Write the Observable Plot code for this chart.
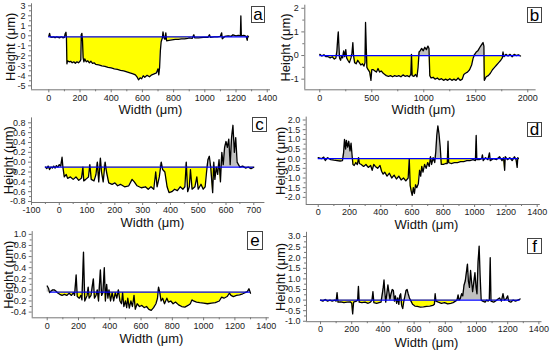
<!DOCTYPE html>
<html><head><meta charset="utf-8">
<script src="https://cdn.jsdelivr.net/npm/d3@7"></script>
<script src="https://cdn.jsdelivr.net/npm/@observablehq/plot@0.6"></script>
<style>
body{margin:0;background:#fff;}
#wrap{position:relative;width:550px;height:352px;overflow:hidden;font-family:Arial,"Liberation Sans",sans-serif;background:#fff;}
.panel{position:absolute;}
.tag{position:absolute;background:#fff;border:1px solid #444;box-sizing:border-box;font-size:17px;display:flex;align-items:center;justify-content:center;color:#000;line-height:1;}
</style>
</head><body><div id="wrap"></div>
<script>
// ---- data ----
const baseA = -0.1, baseB = 0, baseC = -0.1, baseD = 0, baseE = -0.04, baseF = 0;
const profileA = [[0,-0.05],[5,0.25],[10,-0.1],[20,-0.15],[30,-0.1],[40,-0.2],[50,-0.1],[60,-0.15],[70,-0.2],[80,-0.1],[90,-0.2],[100,-0.15],[105,0.2],[110,0.35],[113,-0.2],[116,-2.8],[120,-2.5],[130,-2.6],[140,-2.55],[150,-2.7],[160,-2.6],[170,-2.75],[180,-2.6],[190,-2.7],[200,-2.55],[205,-2.4],[208,0.1],[212,0.25],[216,-0.5],[220,-2.2],[225,-2.6],[230,-2.3],[240,-2.6],[250,-2.5],[260,-2.7],[270,-2.55],[280,-2.75],[290,-2.7],[300,-2.85],[320,-2.9],[340,-3.0],[360,-3.05],[380,-3.15],[400,-3.2],[420,-3.3],[440,-3.35],[460,-3.45],[480,-3.5],[500,-3.6],[520,-3.7],[540,-3.8],[555,-3.9],[565,-4.1],[575,-4.4],[585,-4.2],[595,-4.3],[605,-4.0],[615,-4.15],[630,-3.95],[645,-4.1],[660,-3.9],[675,-3.8],[690,-3.7],[700,-3.3],[705,-3.9],[710,-3.2],[715,-1.5],[720,-0.6],[728,-0.2],[732,0.4],[738,-0.2],[745,-0.35],[750,0.3],[755,-0.5],[770,-0.45],[790,-0.4],[810,-0.35],[830,-0.35],[850,-0.3],[870,-0.3],[890,-0.25],[900,-0.2],[920,-0.25],[930,0.1],[935,-0.2],[960,-0.2],[990,-0.15],[1020,-0.15],[1030,0.1],[1035,-0.15],[1060,-0.1],[1080,-0.1],[1100,-0.05],[1108,0.3],[1112,-0.3],[1130,-0.05],[1150,0.0],[1170,-0.05],[1180,0.1],[1200,0.0],[1215,0.05],[1228,0.0],[1231,2.0],[1234,0.0],[1250,0.05],[1265,-0.05],[1272,-0.45],[1275,0.0],[1280,-0.1]];
const profileB = [[0,0.05],[20,-0.02],[40,0.03],[60,-0.05],[80,-0.05],[100,-0.1],[120,-0.05],[140,-0.15],[155,-0.1],[165,0.2],[172,0.7],[178,1.0],[183,0.5],[190,-0.1],[200,-0.2],[210,0.0],[220,-0.1],[230,0.2],[240,-0.05],[250,0.25],[258,-0.1],[270,-0.2],[285,-0.3],[300,-0.1],[310,0.1],[318,0.55],[325,0.0],[335,-0.3],[350,-0.35],[365,-0.2],[380,-0.3],[395,-0.4],[410,-0.35],[425,-0.45],[435,-0.3],[440,1.4],[448,0.2],[453,-0.5],[465,-0.6],[480,-0.7],[492,-1.05],[500,-0.6],[515,-0.6],[530,-0.65],[545,-0.7],[560,-0.55],[575,-0.7],[590,-0.65],[610,-0.75],[625,-0.8],[640,-0.85],[660,-0.88],[680,-0.85],[700,-0.9],[720,-0.85],[740,-0.88],[760,-0.85],[780,-0.9],[800,-0.82],[820,-0.88],[840,-0.85],[860,-0.9],[875,-0.8],[882,0.05],[888,-0.85],[905,-0.88],[920,-0.8],[935,-0.9],[945,-0.5],[955,0.15],[965,0.2],[980,0.3],[995,0.2],[1010,0.35],[1025,0.25],[1040,0.4],[1050,0.3],[1058,-0.85],[1070,-0.95],[1090,-0.92],[1110,-1.0],[1130,-0.95],[1150,-1.02],[1170,-0.98],[1190,-1.05],[1210,-1.0],[1230,-1.05],[1250,-0.98],[1270,-1.05],[1290,-1.0],[1310,-1.05],[1330,-0.95],[1350,-1.05],[1370,-1.0],[1385,-0.8],[1400,-0.75],[1420,-0.7],[1440,-0.6],[1460,-0.4],[1475,-0.1],[1490,0.05],[1505,0.15],[1520,0.2],[1540,0.35],[1555,0.45],[1570,0.55],[1578,0.4],[1582,-1.05],[1600,-0.9],[1620,-0.85],[1640,-0.75],[1660,-0.6],[1680,-0.5],[1700,-0.4],[1720,-0.3],[1740,-0.2],[1755,-0.1],[1762,0.15],[1770,-0.05],[1790,0.05],[1810,-0.02],[1830,0.05],[1850,-0.05],[1870,0.05],[1890,0.0],[1910,0.03],[1930,-0.02]];
const profileC = [[-50,-0.1],[-45,-0.13],[-40,-0.08],[-35,-0.15],[-30,-0.1],[-25,-0.12],[-20,-0.08],[-15,-0.12],[-10,-0.07],[-5,-0.1],[0,-0.05],[5,-0.08],[10,0.1],[13,-0.1],[18,-0.3],[25,-0.25],[30,-0.33],[40,-0.3],[50,-0.35],[60,-0.3],[70,-0.37],[80,-0.32],[85,-0.1],[88,-0.38],[95,-0.35],[105,-0.3],[110,-0.05],[115,-0.35],[125,-0.38],[132,-0.25],[137,0.0],[142,-0.4],[148,0.08],[152,-0.2],[158,-0.4],[165,0.0],[170,-0.2],[178,-0.42],[190,-0.45],[200,-0.42],[210,-0.48],[220,-0.45],[235,-0.5],[250,-0.48],[262,-0.35],[270,-0.4],[280,-0.48],[295,-0.52],[310,-0.5],[320,-0.55],[330,-0.5],[340,-0.55],[347,-0.2],[352,-0.5],[360,-0.3],[367,0.0],[372,-0.15],[380,-0.2],[388,-0.5],[395,-0.62],[405,-0.6],[415,-0.55],[425,-0.58],[435,-0.5],[445,-0.55],[452,-0.5],[457,0.0],[462,-0.6],[468,-0.5],[472,-0.15],[478,-0.55],[488,-0.5],[495,-0.3],[500,-0.55],[510,-0.45],[518,-0.55],[525,-0.5],[530,-0.2],[535,0.05],[540,0.12],[545,-0.1],[552,-0.62],[556,0.0],[560,-0.35],[565,-0.1],[570,-0.25],[575,0.05],[580,-0.4],[585,0.2],[590,-0.05],[595,0.3],[600,0.42],[605,0.3],[610,0.47],[615,-0.05],[620,0.5],[625,0.75],[630,0.2],[635,0.5],[640,0.0],[645,-0.05],[650,-0.1],[660,-0.08],[670,-0.12],[680,-0.1],[690,-0.13],[700,-0.1]];
const profileD = [[0,0.05],[20,0.0],[35,0.08],[45,-0.1],[60,0.05],[80,-0.05],[100,-0.08],[120,-0.1],[140,-0.12],[155,-0.1],[162,0.3],[168,1.0],[175,0.5],[180,0.95],[188,0.6],[195,0.9],[203,0.4],[210,0.8],[216,0.2],[222,-0.3],[230,-0.35],[240,-0.2],[250,-0.3],[258,0.05],[263,-0.25],[275,-0.3],[290,-0.4],[305,-0.3],[320,-0.45],[335,-0.35],[345,-0.6],[355,-0.3],[365,-0.4],[380,-0.5],[395,-0.35],[405,-0.65],[415,-0.8],[425,-0.7],[440,-0.9],[455,-0.75],[470,-1.0],[485,-0.85],[500,-1.05],[515,-0.9],[530,-1.1],[545,-1.0],[560,-1.15],[575,-1.0],[582,0.0],[588,-1.4],[595,-1.7],[601,-1.9],[608,-1.5],[615,-1.8],[622,-1.35],[630,-1.5],[640,-1.3],[648,-0.6],[655,-0.9],[662,-0.4],[670,-0.7],[680,-0.3],[690,-0.5],[700,-0.2],[710,-0.4],[718,0.1],[725,-0.3],[735,0.05],[745,-0.2],[752,0.4],[758,1.2],[765,1.7],[772,1.3],[780,0.6],[787,-0.3],[800,-0.3],[815,-0.25],[825,-0.25],[830,0.9],[834,-0.2],[850,-0.25],[870,-0.2],[890,-0.2],[910,-0.15],[930,-0.15],[950,-0.1],[970,-0.1],[990,-0.05],[1005,-0.1],[1010,1.2],[1014,-0.05],[1030,-0.05],[1045,0.0],[1050,0.2],[1055,-0.1],[1070,0.05],[1085,-0.05],[1095,0.3],[1100,-0.1],[1120,0.0],[1140,-0.05],[1160,0.1],[1175,-0.1],[1185,0.05],[1192,-0.6],[1196,0.1],[1210,-0.05],[1225,0.05],[1240,-0.1],[1255,0.1],[1265,-0.05],[1272,-0.45],[1276,0.05],[1280,0.0]];
const profileE = [[0,0.07],[8,0.03],[15,-0.05],[25,-0.02],[35,0.0],[45,0.0],[55,-0.02],[65,-0.05],[80,-0.08],[95,-0.1],[110,-0.08],[125,-0.1],[140,-0.06],[155,-0.1],[168,-0.05],[175,-0.1],[185,0.27],[192,-0.12],[205,-0.15],[215,-0.1],[222,-0.18],[232,0.68],[240,-0.2],[255,-0.1],[262,0.05],[268,-0.15],[280,-0.1],[295,0.2],[302,-0.15],[312,-0.1],[320,0.0],[328,-0.2],[340,0.36],[348,-0.1],[356,-0.05],[365,0.4],[372,-0.2],[380,0.1],[388,-0.15],[395,0.0],[405,-0.2],[415,-0.05],[425,-0.2],[435,-0.05],[445,-0.15],[455,0.0],[465,-0.2],[475,-0.25],[482,-0.05],[490,-0.3],[500,-0.2],[508,-0.32],[515,-0.15],[525,-0.33],[535,-0.2],[545,-0.3],[555,-0.1],[563,-0.35],[575,-0.25],[590,-0.3],[605,-0.28],[620,-0.32],[635,-0.3],[650,-0.35],[665,-0.37],[680,-0.32],[695,-0.25],[705,-0.15],[712,0.05],[720,-0.05],[728,-0.2],[738,-0.15],[750,-0.25],[765,-0.15],[775,-0.22],[790,-0.2],[805,-0.25],[820,-0.22],[840,-0.27],[860,-0.3],[880,-0.31],[900,-0.28],[915,-0.25],[925,-0.18],[935,-0.2],[955,-0.22],[975,-0.23],[1000,-0.24],[1025,-0.25],[1050,-0.24],[1075,-0.23],[1100,-0.2],[1115,-0.13],[1130,-0.15],[1150,-0.12],[1165,-0.06],[1175,-0.1],[1190,-0.12],[1210,-0.1],[1230,-0.09],[1250,-0.07],[1265,-0.05],[1280,-0.03],[1290,0.02],[1300,-0.06]];
const profileF = [[0,0.0],[15,-0.05],[30,0.03],[45,-0.05],[60,0.0],[75,-0.05],[90,0.0],[100,-0.05],[106,0.35],[112,-0.1],[130,-0.08],[150,-0.12],[170,-0.1],[190,-0.08],[200,-0.15],[206,-0.65],[212,-0.1],[230,-0.05],[238,0.0],[243,0.65],[248,-0.1],[265,-0.12],[285,-0.1],[305,-0.15],[320,-0.1],[330,0.0],[336,0.4],[342,-0.12],[360,-0.15],[375,-0.12],[388,-0.1],[395,0.25],[402,0.6],[407,0.95],[413,0.3],[418,-0.1],[425,0.3],[432,0.72],[438,0.4],[445,0.05],[452,0.3],[460,0.5],[467,0.45],[474,-0.05],[480,0.2],[488,-0.15],[495,0.1],[502,-0.2],[508,0.2],[514,0.3],[520,-0.25],[527,-0.4],[533,-0.1],[540,0.15],[548,0.45],[555,0.5],[562,0.3],[570,0.1],[580,-0.05],[590,-0.2],[605,-0.28],[620,-0.3],[640,-0.33],[660,-0.32],[680,-0.3],[700,-0.28],[720,-0.25],[730,-0.2],[735,0.3],[740,-0.05],[755,-0.1],[775,-0.15],[795,-0.12],[815,-0.18],[835,-0.15],[850,-0.12],[865,-0.05],[875,0.0],[882,0.25],[888,0.0],[895,0.05],[905,0.3],[912,0.2],[920,0.7],[928,0.9],[935,1.3],[942,1.7],[948,0.9],[955,0.6],[962,1.4],[968,0.9],[975,0.4],[982,0.8],[990,1.3],[997,0.6],[1003,0.3],[1010,1.8],[1017,2.55],[1023,1.2],[1030,0.0],[1040,-0.05],[1055,-0.1],[1065,0.0],[1075,-0.05],[1082,0.0],[1088,2.0],[1093,-0.05],[1110,-0.1],[1130,0.0],[1148,0.1],[1160,-0.05],[1170,0.3],[1178,0.0],[1190,0.05],[1200,0.2],[1206,-0.05],[1220,-0.1],[1235,0.0],[1250,-0.05],[1265,0.0],[1280,0.05]];

// ---- tick labels ----
const xTicks1400 = [0,200,400,600,800,1000,1200,1400];
const xTicksB = [0,500,1000,1500,2000];
const xTicksC = [-100,0,100,200,300,400,500,600,700];
const yTicksA = [-5,-4,-3,-2,-1,0,1,2,3];
const yTicksB = [-1,0,1,2];
const yTicksC = [-0.8,-0.6,-0.4,-0.2,0.0,0.2,0.4,0.6,0.8];
const yTicksD = [-2.0,-1.5,-1.0,-0.5,0.0,0.5,1.0,1.5,2.0];
const yTicksE = [-0.4,-0.2,0.0,0.2,0.4,0.6,0.8,1.0];
const yTicksF = [-1.0,-0.5,0.0,0.5,1.0,1.5,2.0,2.5,3.0];
const tagLabels = ["a","b","c","d","e","f"];
const xTitle = "Width (μm)", yTitle = "Height (μm)";

const fmtInt = d => (d < 0 ? "-" : "") + Math.abs(d);
const fmt1 = d => Math.abs(d) < 1e-9 ? "0.0" : (d < 0 ? "-" : "") + Math.abs(d).toFixed(1);
const minors = t => t.slice(1).map((v, i) => (v + t[i]) / 2);

const panels = [
  {data: profileA, base: baseA, bx: [0,1280], left: 0, top: 0, h: 117, ml: 31, mr: 5, mt: 3.3, mb: 27.7, xd: [-111,1421], yd: [-5.4,3.2], xt: xTicks1400, yt: yTicksA, yf: fmtInt, xp: 2, yl: 10, xl: 150, xly: 20, tag: [251,6,14,17]},
  {data: profileB, base: baseB, bx: [0,1930], left: 275, top: 0, h: 117, ml: 29.3, mr: 14.4, mt: 4.7, mb: 27.7, xd: [-144,2080], yd: [-1.45,2.13], xt: xTicksB, yt: yTicksB, yf: fmtInt, xp: 2, yl: 10, xl: 148, xly: 20, tag: [527,7,15,16]},
  {data: profileC, base: baseC, bx: [-50,700], left: 0, top: 115, h: 117, ml: 31, mr: 10.6, mt: 2.4, mb: 30, xd: [-100,740], yd: [-0.82,0.9], xt: xTicksC, yt: yTicksC, yf: fmt1, xp: 1, yl: 8.5, xl: 152, xly: 20, tag: [252,117,15,15]},
  {data: profileD, base: baseD, bx: [0,1280], left: 275, top: 115, h: 117, ml: 30.7, mr: 10.2, mt: 1.6, mb: 28, xd: [-77,1420], yd: [-2.37,2.15], xt: xTicks1400, yt: yTicksD, yf: fmt1, xp: 1.5, yl: 5.5, xl: 151, xly: 20.5, tag: [527,122,15,15]},
  {data: profileE, base: baseE, bx: [20,1300], left: 0, top: 230, h: 122, ml: 31.7, mr: 6.2, mt: 1.1, mb: 34.7, xd: [-96,1420], yd: [-0.503,1.05], xt: xTicks1400, yt: yTicksE, yf: fmt1, xp: 2, yl: 8, xl: 151, xly: 21, tag: [247,231,16,19]},
  {data: profileF, base: baseF, bx: [0,1280], left: 275, top: 230, h: 122, ml: 31, mr: 8.5, mt: 1.8, mb: 30.8, xd: [-90,1420], yd: [-1.02,3.2], xt: xTicks1400, yt: yTicksF, yf: fmt1, xp: 1, yl: 5.5, xl: 151, xly: 21.5, tag: [527,238,15,16]}
];

const wrap = document.getElementById("wrap");
const AX = "#777";
panels.forEach((p, i) => {
  const X = d => d[0];
  const svg = Plot.plot({
    width: 275, height: p.h,
    marginLeft: p.ml, marginRight: p.mr, marginTop: p.mt, marginBottom: p.mb,
    style: "background:transparent;overflow:visible;font-family:Arial,'Liberation Sans',sans-serif;",
    x: {domain: p.xd}, y: {domain: p.yd},
    marks: [
      Plot.area(p.data, {x1: X, y1: () => p.base, y2: d => Math.min(d[1], p.base), fill: "#ffff00"}),
      Plot.area(p.data, {x1: X, y1: () => p.base, y2: d => Math.max(d[1], p.base), fill: "#c0c0c0"}),
      Plot.line(p.data, {x: X, y: d => d[1], stroke: "#000", strokeWidth: 1.3}),
      Plot.ruleY([p.base], {x1: () => p.bx[0], x2: () => p.bx[1], stroke: "#0000ff", strokeWidth: 1.3}),
      Plot.ruleX([p.xd[0]], {stroke: AX}),
      Plot.ruleY([p.yd[0]], {stroke: AX}),
      Plot.axisX({ticks: p.xt, tickFormat: fmtInt, tickSize: 3, tickPadding: p.xp, fontSize: 9, stroke: AX, fill: "#222", label: null}),
      Plot.axisX({ticks: minors(p.xt), tickFormat: () => "", tickSize: 2, stroke: AX, label: null}),
      Plot.axisY({ticks: p.yt, tickFormat: p.yf, tickSize: 3, tickPadding: 3, fontSize: 9, stroke: AX, fill: "#222", label: null}),
      Plot.axisY({ticks: minors(p.yt), tickFormat: () => "", tickSize: 2, stroke: AX, label: null}),
      Plot.text([xTitle], {frameAnchor: "bottom-left", dx: p.xl - p.ml, dy: p.xly, fontSize: 13, fill: "#111", textAnchor: "middle", lineAnchor: "middle"}),
      Plot.text([yTitle], {frameAnchor: "left", dx: p.yl - p.ml, rotate: -90, fontSize: 13, fill: "#111", textAnchor: "middle", lineAnchor: "middle"})
    ]
  });
  svg.classList.add("panel");
  svg.style.left = p.left + "px";
  svg.style.top = p.top + "px";
  wrap.appendChild(svg);
});
panels.forEach((p, i) => {
  const t = document.createElement("div");
  t.className = "tag";
  t.textContent = tagLabels[i];
  t.style.left = p.tag[0] + "px"; t.style.top = p.tag[1] + "px";
  t.style.width = p.tag[2] + "px"; t.style.height = p.tag[3] + "px";
  wrap.appendChild(t);
});
</script>
</body></html>
